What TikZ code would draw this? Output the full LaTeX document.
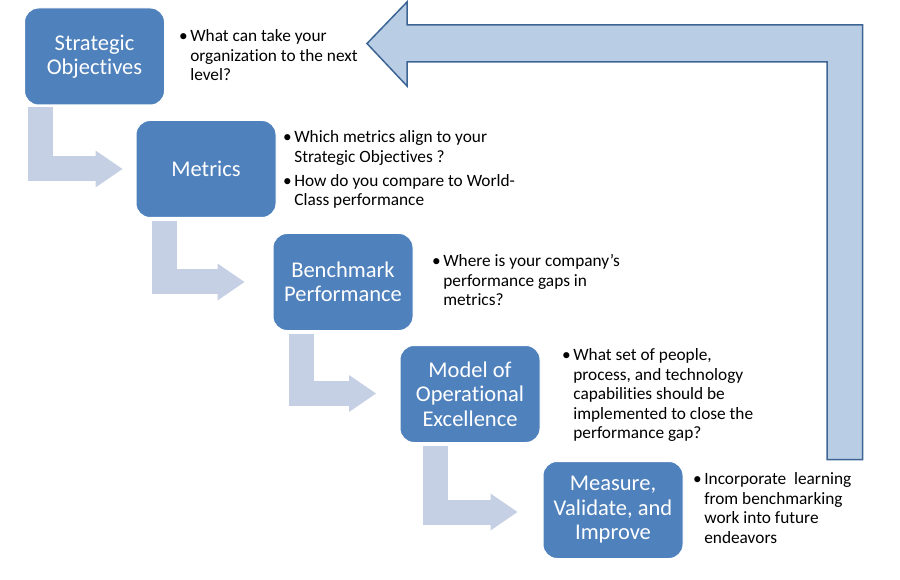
\documentclass[tikz,border=0pt]{standalone}
\usepackage{fontspec}
\setmainfont{Carlito}[Ligatures={NoCommon,NoRequired}]
\usepackage{tikz}
\usetikzlibrary{arrows.meta}
\usetikzlibrary{positioning}

\definecolor{stageblue}{HTML}{4F81BD}
\definecolor{bentblue}{HTML}{C6D0E4}
\definecolor{loopfill}{HTML}{B9CDE5}
\definecolor{loopline}{HTML}{3D6594}

\begin{document}
\begin{tikzpicture}
 [ x=1pt
 , y=-1pt
 , stage/.style={rounded corners=14pt, fill=stageblue, draw=white, line width=1pt,
     minimum width=140pt, minimum height=97pt, inner sep=0pt,
     align=center, text=white, font=\fontsize{22.5}{24.5}\selectfont}
 , note/.style={anchor=north west, inner sep=0pt, font=\fontsize{17.3}{19.5}\selectfont}
 , bent arrow/.style={draw=bentblue, line width=25pt, line join=miter,
     -{Triangle[width=37pt 0 0, length=27pt 0 0, line width=0pt 0 0]}}
 , return arrow/.style={fill=loopfill, draw=loopline, line width=1.5pt, line join=miter}
 ]
  \useasboundingbox (0,0) rectangle (900,580);

  \node [stage] (strat) at (94.5,56.5) {Strategic\\Objectives};
  \node [stage] (metr) at (206,169) {Metrics};
  \node [stage] (bench) at (343,282) {Benchmark\\Performance};
  \node [stage] (opex) at (470,394) {Model of\\Operational\\Excellence};
  \node [stage] (meas) at (613,510) {Measure,\\Validate, and\\Improve};

  \node [note] (stratnote) at (179,28)
    {\begin{tabular}{@{}l@{\hspace{2.5pt}}l@{}}
       \textbullet & What can take your\\
                   & organization to the next\\
                   & level?
     \end{tabular}};
  \node [note] (metrnote) at (283,129)
    {\begin{tabular}{@{}l@{\hspace{2.5pt}}l@{}}
       \textbullet & Which metrics align to your\\
                   & Strategic Objectives ?\\[4.5pt]
       \textbullet & How do you compare to World-\\
                   & Class performance
     \end{tabular}};
  \node [note] (benchnote) at (432,253)
    {\begin{tabular}{@{}l@{\hspace{2.5pt}}l@{}}
       \textbullet & Where is your company’s\\
                   & performance gaps in\\
                   & metrics?
     \end{tabular}};
  \node [note] (opexnote) at (562,347)
    {\begin{tabular}{@{}l@{\hspace{2.5pt}}l@{}}
       \textbullet & What set of people,\\
                   & process, and technology\\
                   & capabilities should be\\
                   & implemented to close the\\
                   & performance gap?
     \end{tabular}};
  \node [note] (measnote) at (693,471)
    {\begin{tabular}{@{}l@{\hspace{2.5pt}}l@{}}
       \textbullet & Incorporate\ \ learning\\
                   & from benchmarking\\
                   & work into future\\
                   & endeavors
     \end{tabular}};

  % stage to stage
  \draw [bent arrow] ([xshift=16.5pt, yshift=-2pt]strat.south west) |- ([xshift=-13pt]metr.west);
  \draw [bent arrow] ([xshift=29pt, yshift=-3pt]metr.south west) |- ([xshift=-28pt]bench.west);
  \draw [bent arrow] ([xshift=28.5pt, yshift=-3pt]bench.south west) |- ([xshift=-23.5pt, yshift=0.5pt]opex.west);
  \draw [bent arrow] ([xshift=35.5pt, yshift=-3pt]opex.south west) |- ([xshift=-25pt, yshift=-2pt]meas.west);

  % back to the start
  \coordinate (looptip) at (367,43.5);
  \coordinate (loopfoot) at (844.75,459.5);
  \draw [return arrow] (looptip) -- (407,2) -- (407,25) -| ([xshift=17.75pt]loopfoot)
    -- ([xshift=-17.75pt]loopfoot) |- (407,62) -- (407,86) -- cycle;
\end{tikzpicture}
\end{document}
